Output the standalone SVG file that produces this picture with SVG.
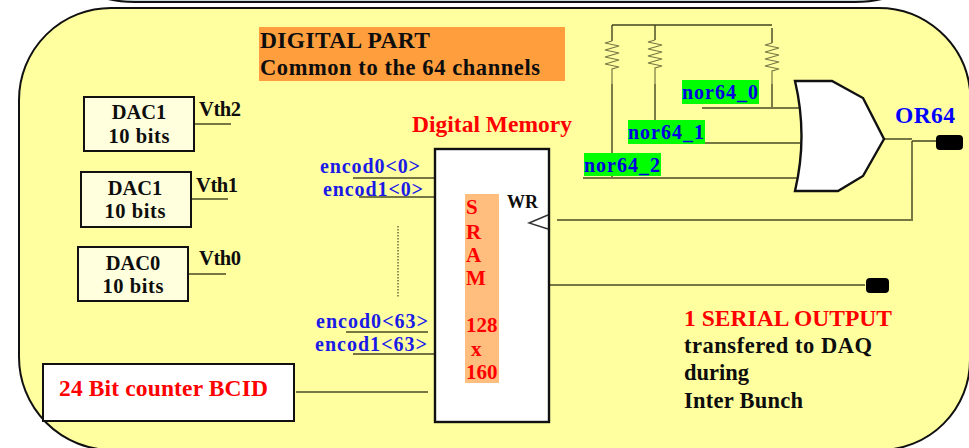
<svg xmlns="http://www.w3.org/2000/svg" width="969" height="448" viewBox="0 0 969 448">
<style>
text{font-family:"Liberation Serif","Times New Roman",serif;font-weight:bold}
.t{font-size:23.5px}
.s{font-size:21px}
.b{fill:#0000ff}
.r{fill:#ff0000}
.k{fill:#0d0d0d}
.d{font-size:20.5px;fill:#0d0d0d}
.e{font-size:20px;fill:#1a1ae6}
.n{font-size:20px;fill:#0000e0}
.box{fill:#ffffdd;stroke:#111;stroke-width:2}
.w{stroke:#777744;stroke-width:2;fill:none}
.th{stroke:#444422;stroke-width:1.4;fill:none}
.res{stroke:#777744;stroke-width:1.2;fill:none}
.pad{fill:#000}
</style>
<rect width="969" height="448" fill="#fff"/>
<path d="M108 -1Q120 2 135 2H855Q870 2 882 -1" fill="#c8d8d8" stroke="#111" stroke-width="2"/>
<path id="panel" d="M112 8H878A92 92 0 0 1 970 90V360A90 90 0 0 1 880 450H112A93 93 0 0 1 19 357V100A92 92 0 0 1 112 8Z" fill="#ffffa0" stroke="#111" stroke-width="2"/>
<g id="connectors">
<path class="w" d="M195 124H231M192 199H228M189 274H226"/>
<path class="w" d="M296 392H428"/>
<path class="w" d="M353 178H435M359 197H435M346 332H428"/>
<path class="th" d="M353 354H435"/>
<path d="M398 226V298" stroke="#777744" stroke-width="1.6" stroke-dasharray="1.5 1.5" fill="none"/>
<path class="w" d="M550 285H865"/>
<path class="w" d="M557 220H912V181"/>
<path class="th" d="M612 179V84M655 120V84M772 109V84M612 25H772M612 25V41M655 25V40M772 28V43"/>
<path class="res" d="M612 41L605 43L619 46L605 50L619 53L605 57L619 60L605 64L619 67L612 69V84"/>
<path class="res" d="M655 40L648 42L662 45L648 49L662 52L648 56L662 59L648 63L662 66L655 68V84"/>
<path class="res" d="M772 43L765 45L779 48L765 52L779 55L765 59L779 62L765 66L779 69L772 71V84"/>
<path class="w" d="M702 108H800M655 143H800M583 178H800"/>
<path class="w" d="M884 139H912"/>
<path class="th" d="M912 141V181M912 141H937"/>
</g>
<g id="digital-part">
<rect x="259" y="27" width="306" height="54" fill="#ff9e3d"/>
<text class="t k" x="260" y="48" textLength="170">DIGITAL PART</text>
<text class="s k" x="260" y="75" textLength="280" style="font-size:22.5px">Common to the 64 channels</text>
</g>
<g id="dac2">
<rect class="box" x="84" y="97" width="110" height="54"/>
<text class="d" x="139" y="119" text-anchor="middle">DAC1</text>
<text class="d" x="139" y="143" text-anchor="middle" textLength="61">10 bits</text>
<text class="d" x="199" y="116" textLength="42">Vth2</text>
</g>
<g id="dac1">
<rect class="box" x="81" y="172" width="110" height="55"/>
<text class="d" x="135" y="195" text-anchor="middle">DAC1</text>
<text class="d" x="135" y="218" text-anchor="middle" textLength="61">10 bits</text>
<text class="d" x="196" y="192" textLength="42">Vth1</text>
</g>
<g id="dac0">
<rect class="box" x="78" y="247" width="110" height="54"/>
<text class="d" x="133" y="270" text-anchor="middle">DAC0</text>
<text class="d" x="133" y="293" text-anchor="middle" textLength="61">10 bits</text>
<text class="d" x="199" y="265" textLength="42">Vth0</text>
</g>
<g id="bcid">
<rect x="43" y="364" width="251" height="57" fill="#fff" stroke="#111" stroke-width="2"/>
<text class="t r" x="59" y="396" textLength="209">24 Bit counter BCID</text>
</g>
<g id="memory">
<text class="t r" x="412" y="132" textLength="160">Digital Memory</text>
<rect x="435" y="149" width="114" height="273" fill="#fff" stroke="#111" stroke-width="2.4"/>
<rect x="465" y="194" width="34" height="189" fill="#ffbe7d"/>
<text class="s r" x="466" y="214">S</text>
<text class="s r" x="466" y="239">R</text>
<text class="s r" x="466" y="262">A</text>
<text class="s r" x="466" y="285">M</text>
<text class="s r" x="466" y="332">128</text>
<text class="s r" x="471" y="356">x</text>
<text class="s r" x="466" y="379">160</text>
<text x="507" y="208" style="font-size:18px" class="k">WR</text>
<path d="M548 215L529 223L548 229" fill="none" stroke="#333" stroke-width="1.4"/>
</g>
<g id="encod-labels">
<text class="e" x="320" y="173" textLength="100">encod0&lt;0&gt;</text>
<text class="e" x="323" y="196" textLength="100">encod1&lt;0&gt;</text>
<text class="e" x="316" y="328" textLength="112">encod0&lt;63&gt;</text>
<text class="e" x="315" y="351" textLength="112">encod1&lt;63&gt;</text>
</g>
<g id="gate">
<path d="M795 81H832L863 98L884 139L863 176L838 191H795Q808 136 795 81Z" fill="#fff" stroke="#111" stroke-width="2.4" stroke-linejoin="miter"/>
</g>
<g id="nor-labels">
<rect x="682" y="80" width="77" height="24" fill="#00ff00"/>
<text class="n" x="682" y="99" textLength="76">nor64_0</text>
<rect x="628" y="120" width="77" height="24" fill="#00ff00"/>
<text class="n" x="628" y="139" textLength="76">nor64_1</text>
<rect x="584" y="153" width="77" height="23" fill="#00ff00"/>
<text class="n" x="584" y="172" textLength="76">nor64_2</text>
</g>
<g id="or64">
<text class="t b" x="895" y="123" textLength="60">OR64</text>
<rect class="pad" x="936" y="135" width="27" height="15" rx="4"/>
</g>
<g id="serial">
<rect class="pad" x="866" y="278" width="23" height="15" rx="4"/>
<text class="t r" x="684" y="326" textLength="208">1 SERIAL OUTPUT</text>
<text class="s k" x="684" y="353" textLength="188" style="font-size:22.5px">transfered to DAQ</text>
<text class="s k" x="684" y="380" textLength="65" style="font-size:22.5px">during</text>
<text class="s k" x="684" y="408" textLength="119" style="font-size:22.5px">Inter Bunch</text>
</g>
</svg>
